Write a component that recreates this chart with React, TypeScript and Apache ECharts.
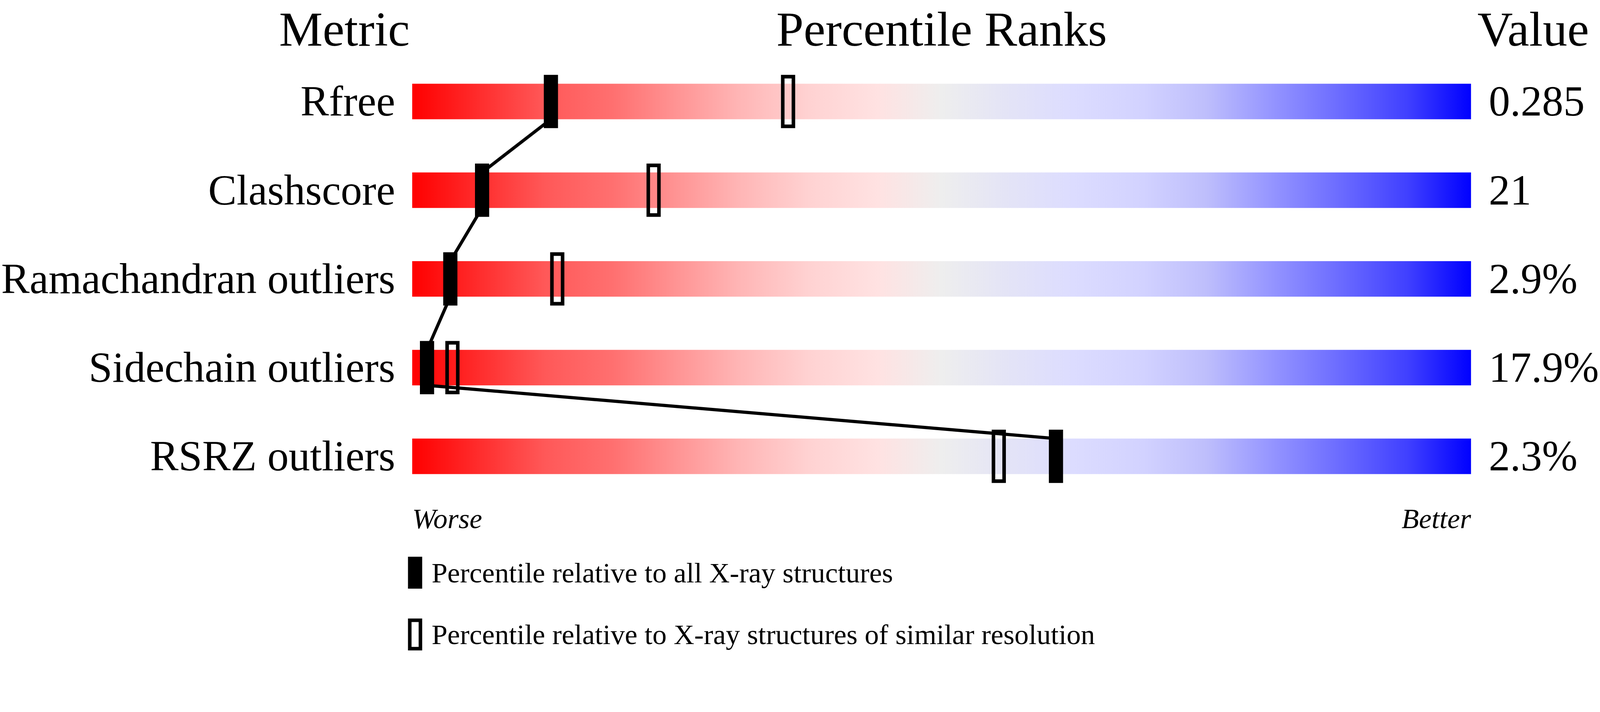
import { useEffect, useRef } from 'react'
import * as echarts from 'echarts'

// ===== 数据 =====
const metrics = ['Rfree', 'Clashscore', 'Ramachandran outliers', 'Sidechain outliers', 'RSRZ outliers']
const metricValues = ['0.285', '21', '2.9%', '17.9%', '2.3%']
// percentile relative to all X-ray structures
const allXray = [13.1, 6.6, 3.6, 1.4, 60.8]
// percentile relative to X-ray structures of similar resolution
const similarRes = [35.5, 22.8, 13.7, 3.8, 55.4]
const scaleEnds = ['Worse', 'Better']
const headers = ['Metric', 'Percentile Ranks', 'Value']
const legendNames = [
  'Percentile relative to all X-ray structures',
  'Percentile relative to X-ray structures of similar resolution',
]

const FONT = '"Liberation Serif", "Times New Roman", serif'
// design size of the reference picture
const DESIGN_W = 4506
const DESIGN_H = 1824

const sliderStops = [
  { offset: 0, color: 'rgb(255,0,0)' },
  { offset: 0.125, color: 'rgb(255,88,88)' },
  { offset: 0.19, color: 'rgb(255,112,112)' },
  { offset: 0.25, color: 'rgb(255,148,148)' },
  { offset: 0.31, color: 'rgb(255,182,182)' },
  { offset: 0.375, color: 'rgb(255,210,210)' },
  { offset: 0.44, color: 'rgb(255,226,226)' },
  { offset: 0.5, color: 'rgb(238,238,238)' },
  { offset: 0.56, color: 'rgb(228,228,246)' },
  { offset: 0.625, color: 'rgb(220,220,255)' },
  { offset: 0.69, color: 'rgb(210,210,255)' },
  { offset: 0.75, color: 'rgb(190,190,252)' },
  { offset: 0.81, color: 'rgb(150,150,255)' },
  { offset: 0.875, color: 'rgb(108,108,255)' },
  { offset: 0.94, color: 'rgb(64,64,255)' },
  { offset: 1, color: 'rgb(0,0,255)' },
]

function buildOption(s: number): echarts.EChartsOption {
  const px = (v: number) => v * s
  const markerW = px(40)
  const hollowLw = px(10)

  return {
    animation: false,
    backgroundColor: '#fff',
    // 5 rows of 250px each, anchored to the top
    grid: { left: px(1152), top: px(161), width: px(3001), height: px(1250) },
    xAxis: {
      type: 'value',
      min: 0,
      max: 100,
      interval: 100,
      axisLine: { show: false },
      axisTick: { show: false },
      splitLine: { show: false },
      axisLabel: {
        margin: px(10),
        fontSize: px(80),
        lineHeight: px(80),
        fontStyle: 'italic',
        fontFamily: FONT,
        color: '#000',
        alignMinLabel: 'left',
        alignMaxLabel: 'right',
        formatter: (v: number) => (v === 0 ? scaleEnds[0] : scaleEnds[1]),
      } as any,
    },
    yAxis: [
      {
        type: 'category',
        data: metrics,
        inverse: true,
        axisLine: { show: false },
        axisTick: { show: false },
        axisLabel: {
          margin: px(48),
          fontSize: px(120),
          lineHeight: px(120),
          padding: [px(20), 0, 0, 0],
          fontFamily: FONT,
          color: '#000',
        },
      },
      {
        type: 'category',
        data: metricValues,
        inverse: true,
        position: 'right',
        axisLine: { show: false },
        axisTick: { show: false },
        axisLabel: {
          margin: px(50),
          fontSize: px(120),
          lineHeight: px(120),
          padding: [px(20), 0, 0, 0],
          fontFamily: FONT,
          color: '#000',
        },
      },
    ],
    legend: {
      orient: 'vertical',
      left: px(1149),
      top: px(1562),
      padding: 0,
      itemWidth: px(40),
      itemHeight: px(90),
      itemGap: px(70),
      selectedMode: false,
      itemStyle: { color: '#000', borderWidth: 0 },
      textStyle: {
        fontSize: px(80),
        lineHeight: px(80),
        fontFamily: FONT,
        color: '#000',
        padding: [px(24), 0, 0, px(21)],
      },
      data: [
        { name: legendNames[0], icon: 'rect' },
        { name: legendNames[1], icon: 'path://M0,0H40V90H0Z M10,10V80H30V10Z' },
      ],
    },
    graphic: headers.map((t, i) => ({
      type: 'text',
      x: px([970, 2652, 4318][i]),
      y: px(82),
      silent: true,
      style: {
        text: t,
        fontSize: px(138),
        lineHeight: px(96),
        fontFamily: FONT,
        fill: '#000',
        align: 'center',
        verticalAlign: 'middle',
      },
    })) as any,
    series: [
      {
        name: 'slider',
        type: 'bar',
        data: metrics.map(() => 100),
        barWidth: px(100),
        silent: true,
        z: 1,
        itemStyle: {
          color: new echarts.graphic.LinearGradient(0, 0, 1, 0, sliderStops),
        },
      },
      {
        name: legendNames[1],
        type: 'custom',
        z: 2,
        silent: true,
        itemStyle: { color: '#000' },
        encode: { x: 0, y: 1 },
        data: similarRes.map((v, i) => [v, i]),
        renderItem: (_params: any, api: any) => {
          const c = api.coord([api.value(0), api.value(1)])
          const h = api.size([0, 1])[1] * 0.6
          return {
            type: 'rect',
            shape: {
              x: c[0] - markerW / 2 + hollowLw / 2,
              y: c[1] - h / 2 + hollowLw / 2,
              width: markerW - hollowLw,
              height: h - hollowLw,
            },
            style: { fill: 'none', stroke: '#000', lineWidth: hollowLw },
          }
        },
      },
      {
        name: 'link',
        type: 'custom',
        z: 3,
        silent: true,
        encode: { x: [0, 2], y: [1, 3] },
        data: allXray.slice(0, -1).map((v, i) => [v, i, allXray[i + 1], i + 1]),
        renderItem: (_params: any, api: any) => {
          const p1 = api.coord([api.value(0), api.value(1)])
          const p2 = api.coord([api.value(2), api.value(3)])
          const off = api.size([0, 1])[1] * 0.2
          return {
            type: 'line',
            shape: { x1: p1[0], y1: p1[1] + off, x2: p2[0], y2: p2[1] - off },
            style: { stroke: '#000', lineWidth: px(9) },
          }
        },
      },
      {
        name: legendNames[0],
        type: 'custom',
        z: 4,
        silent: true,
        itemStyle: { color: '#000' },
        encode: { x: 0, y: 1 },
        data: allXray.map((v, i) => [v, i]),
        renderItem: (_params: any, api: any) => {
          const c = api.coord([api.value(0), api.value(1)])
          const h = api.size([0, 1])[1] * 0.6
          return {
            type: 'rect',
            shape: { x: c[0] - markerW / 2, y: c[1] - h / 2, width: markerW, height: h },
            style: { fill: '#000' },
          }
        },
      },
    ],
  }
}

export default function App() {
  const ref = useRef<HTMLDivElement>(null)

  useEffect(() => {
    if (!ref.current) return
    const chart = echarts.init(ref.current, undefined, { renderer: 'svg' })
    const apply = () => {
      chart.resize()
      const s = Math.min(chart.getWidth() / DESIGN_W, chart.getHeight() / DESIGN_H)
      chart.setOption(buildOption(s), true)
    }
    apply()
    window.addEventListener('resize', apply)
    return () => {
      window.removeEventListener('resize', apply)
      chart.dispose()
    }
  }, [])

  return (
    <div
      ref={ref}
      style={{ position: 'fixed', left: 0, top: 0, width: '100vw', height: '100vh' }}
    />
  )
}
